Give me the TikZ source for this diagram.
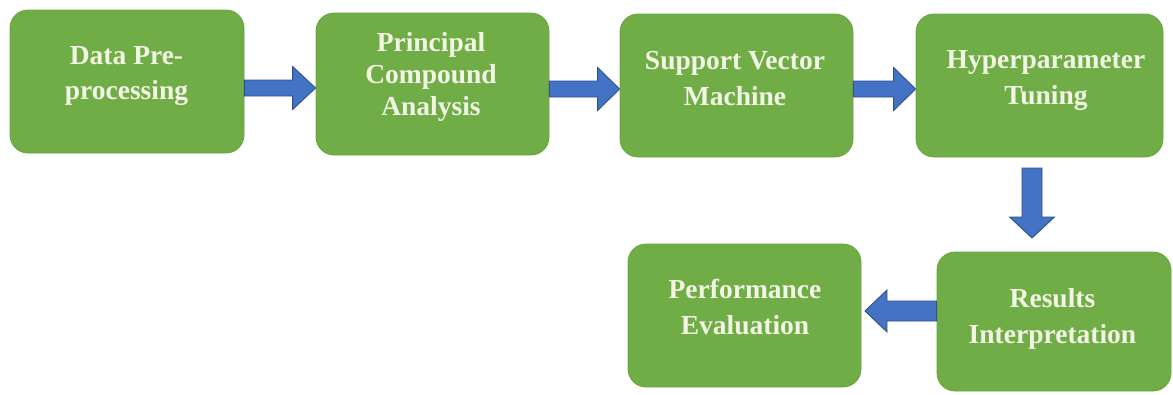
\documentclass[tikz,border=0pt]{standalone}
\usepackage{fontspec}
\setmainfont{Liberation Serif}
\newfontfamily\stagefont{Liberation Serif Bold}
\usetikzlibrary{calc}

\definecolor{boxgreen}{HTML}{70AD47}
\definecolor{boxedge}{HTML}{68A33F}
\definecolor{arrowblue}{HTML}{4472C4}
\definecolor{arrowedge}{HTML}{2F528F}
\definecolor{labelcream}{HTML}{F2F5E4}

% Block arrow from #1 (tail) to #2 (tip):
% #3 shaft half-width, #4 head half-width, #5 head length
\newcommand\blockarrow[5]{%
  \coordinate (hb) at ($(#2)!#5!(#1)$);
  \draw[blockstyle]
    ($(#1)!#3!90:(#2)$) -- ($(hb)!#3!90:(#2)$) -- ($(hb)!#4!90:(#2)$)
    -- (#2)
    -- ($(hb)!#4!-90:(#2)$) -- ($(hb)!#3!-90:(#2)$) -- ($(#1)!#3!-90:(#2)$)
    -- cycle;
}

\begin{document}
\begin{tikzpicture}[x=1pt,y=-1pt,
  stage/.style={draw=boxedge, line width=0.8pt, fill=boxgreen,
    rounded corners=18pt, inner sep=0pt},
  caption/.style={text=labelcream, align=center, inner sep=0pt,
    font=\stagefont\fontsize{27.5}{#1}\selectfont},
  caption/.default=36,
  blockstyle/.style={fill=arrowblue, draw=arrowedge, line width=0.9pt,
    line join=miter}]

\useasboundingbox (0,0) rectangle (1173,394);

% process stages
\node[stage, minimum width=234pt, minimum height=143pt] (b1) at (127,81.5) {};
\node[stage, minimum width=233pt, minimum height=142pt] (b2) at (432.5,84) {};
\node[stage, minimum width=233pt, minimum height=143pt] (b3) at (736.5,85.5) {};
\node[stage, minimum width=247pt, minimum height=143pt] (b4) at (1039.5,85.5) {};
\node[stage, minimum width=234pt, minimum height=139pt] (b5) at (1054,321.5) {};
\node[stage, minimum width=233pt, minimum height=143pt] (b6) at (744.5,315.5) {};

% stage captions
\node[caption=35] (t1) at (126.5,76) {Data Pre-\\processing};
\node[caption=32] (t2) at (431,76.5) {Principal\\Compound\\Analysis};
\node[caption] (t3) at (735,78.5) {Support Vector\\Machine};
\node[caption] (t4) at (1046,81) {Hyperparameter\\Tuning};
\node[caption] (t5) at (1052.5,319) {Results\\Interpretation};
\node[caption] (t6) at (745,307) {Performance\\Evaluation};

% connectors
\coordinate (a1s) at (b1.east |- 0,88);
\coordinate (a1e) at (b2.west |- 0,88);
\coordinate (a2s) at (b2.east |- 0,89);
\coordinate (a2e) at (b3.west |- 0,89);
\coordinate (a3s) at (b3.east |- 0,89);
\coordinate (a3e) at (b4.west |- 0,89);
\coordinate (d0) at (1032,168);
\coordinate (d1) at (1032,238);
\coordinate (l0) at (b5.west |- 0,311);
\coordinate (l1) at (865,311);

\blockarrow{a1s}{a1e}{8pt}{21.5pt}{23pt}
\blockarrow{a2s}{a2e}{8pt}{21.5pt}{22pt}
\blockarrow{a3s}{a3e}{8pt}{21.5pt}{22pt}
\blockarrow{d0}{d1}{10pt}{22.5pt}{21pt}
\blockarrow{l0}{l1}{10pt}{21pt}{22pt}

\end{tikzpicture}
\end{document}
